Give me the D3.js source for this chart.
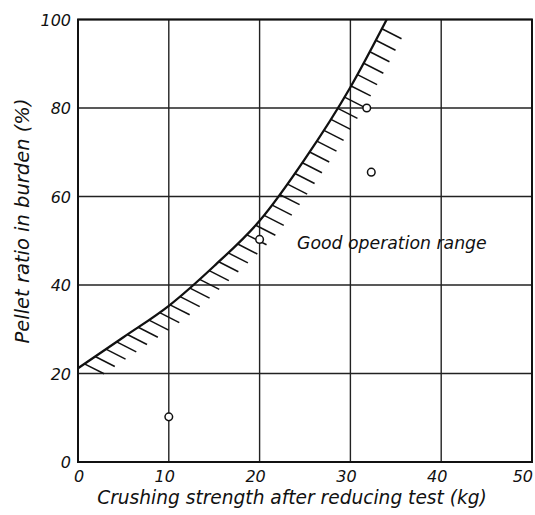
<!DOCTYPE html>
<html><head><meta charset="utf-8">
<script src="https://cdn.jsdelivr.net/npm/d3@7"></script>
<style>body{margin:0;background:#fff}svg{display:block}text{font-family:"DejaVu Sans",sans-serif;font-style:italic;fill:#111}</style>
</head><body>
<script>
const xTicks = [0,10,20,30,40,50];
const yTicks = [0,20,40,60,80,100];
const boundaryX = [0, 5, 10, 15, 20, 25, 30, 34];
const boundaryY = [21.2, 28.2, 35.3, 44.3, 54.5, 68.5, 84.7, 100];
const pointsX = [10, 20, 31.8, 32.3];
const pointsY = [10.2, 50.3, 80, 65.5];
const xTitle = "Crushing strength after reducing test (kg)";
const yTitle = "Pellet ratio in burden (%)";
const note = "Good operation range";

const W = 535, H = 515;
const svg = d3.select("body").append("svg").attr("width", W).attr("height", H);
const x = d3.scaleLinear().domain([0,50]).range([78,532]);
const y = d3.scaleLinear().domain([0,100]).range([462,19.5]);

// grid
svg.append("g").selectAll("line").data(xTicks).join("line")
  .attr("x1", d=>x(d)).attr("x2", d=>x(d)).attr("y1", y(0)).attr("y2", y(100))
  .attr("stroke","#222").attr("stroke-width",1.4);
svg.append("g").selectAll("line").data(yTicks).join("line")
  .attr("x1", x(0)).attr("x2", x(50)).attr("y1", d=>y(d)).attr("y2", d=>y(d))
  .attr("stroke","#222").attr("stroke-width",1.4);
svg.append("rect").attr("x",x(0)).attr("y",y(100)).attr("width",x(50)-x(0)).attr("height",y(0)-y(100))
  .attr("fill","none").attr("stroke","#111").attr("stroke-width",2);

// tick labels
svg.append("g").selectAll("text").data(yTicks).join("text")
  .attr("x", x(0)-7).attr("y", d=>y(d)+6).attr("text-anchor","end")
  .attr("font-size",16).text(d=>d);
svg.append("g").selectAll("text").data(xTicks).join("text")
  .attr("x", d=> d===50 ? 533 : x(d) + (d===0?1:-4)).attr("y", y(0)+20)
  .attr("text-anchor", d=> d===50 ? "end" : "middle")
  .attr("font-size",16).text(d=>d);

// titles
svg.append("text").attr("x", 292).attr("y", 504).attr("text-anchor","middle")
  .attr("font-size",18.6).text(xTitle);
svg.append("text").attr("transform","translate(29,221) rotate(-90)").attr("text-anchor","middle")
  .attr("font-size",19.5).text(yTitle);

// boundary curve
const bdata = boundaryX.map((d,i)=>[d, boundaryY[i]]);
const line = d3.line().x(d=>x(d[0])).y(d=>y(d[1])).curve(d3.curveMonotoneX);
const path = svg.append("path").datum(bdata).attr("d", line)
  .attr("fill","none").attr("stroke","#111").attr("stroke-width",2.3);

// hatching
const node = path.node();
const L = node.getTotalLength();
const step = 13;
const ang = 27*Math.PI/180, hl = 22;
const hatches = d3.range(step*0.6, L, step).map(s => node.getPointAtLength(s));
svg.append("g").selectAll("line").data(hatches).join("line")
  .attr("x1", p=>p.x).attr("y1", p=>p.y)
  .attr("x2", p=>p.x + hl*Math.cos(ang)).attr("y2", p=>p.y + hl*Math.sin(ang))
  .attr("stroke","#111").attr("stroke-width",1.5);

// points
svg.append("g").selectAll("circle").data(pointsX.map((d,i)=>[d,pointsY[i]])).join("circle")
  .attr("cx", d=>x(d[0])).attr("cy", d=>y(d[1])).attr("r",3.8)
  .attr("fill","#fff").attr("stroke","#111").attr("stroke-width",1.5);

// annotation
svg.append("text").attr("x", 297).attr("y", 249).attr("font-size",17.3).text(note);
</script>
</body></html>
